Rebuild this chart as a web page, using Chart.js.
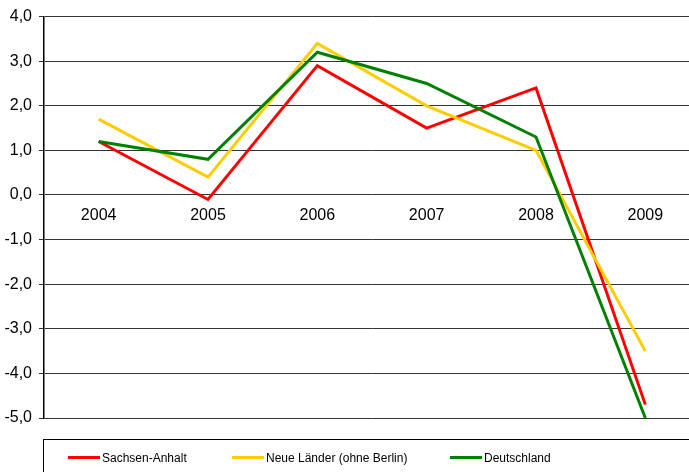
<!DOCTYPE html>
<html>
<head>
<meta charset="utf-8">
<script src="https://cdn.jsdelivr.net/npm/chart.js@4/dist/chart.umd.min.js"></script>
<style>
  html, body { margin: 0; padding: 0; background: #fff; overflow: hidden; }
  #wrap { position: relative; width: 700px; height: 472px; }
  #legend { position: absolute; left: 43px; top: 439px; width: 700px; height: 100px;
            border: 1px solid #000; box-sizing: border-box; font-family: "Liberation Sans", Arial, sans-serif;
            font-size: 12px; color: #000; }
  .li { position: absolute; top: 10px; height: 16px; line-height: 16px; white-space: nowrap; }
  .sw { position: absolute; left: 0; top: 6px; width: 32px; height: 3px; }
  .tx { position: absolute; left: 34px; top: 0; }
</style>
</head>
<body>
<div id="wrap">
  <canvas id="c" width="700" height="472"></canvas>
  <div id="legend"></div>
</div>
<script>
const categories = ['2004', '2005', '2006', '2007', '2008', '2009'];
const seriesNames = ['Sachsen-Anhalt', 'Neue Länder (ohne Berlin)', 'Deutschland'];
const sachsenAnhalt = [1.2, -0.1, 2.9, 1.5, 2.4, -4.7];
const neueLaender = [1.7, 0.4, 3.4, 2.0, 1.0, -3.5];
const deutschland = [1.2, 0.8, 3.2, 2.5, 1.3, -5.0];
const seriesColors = ['#ff0000', '#ffcc00', '#008000'];
const yMin = -5, yMax = 4, yStep = 1;

const seriesData = [sachsenAnhalt, neueLaender, deutschland];
const datasets = seriesData.map((d, i) => ({
  label: seriesNames[i],
  data: d,
  borderColor: seriesColors[i],
  backgroundColor: seriesColors[i],
  borderWidth: 3,
  pointRadius: 0,
  tension: 0,
  borderJoinStyle: 'miter',
  clip: false,
  order: seriesData.length - i
}));

new Chart(document.getElementById('c'), {
  type: 'line',
  data: { labels: categories, datasets },
  options: {
    responsive: false,
    animation: false,
    layout: { padding: { top: 15, left: 0, right: 0, bottom: 54 } },
    plugins: { legend: { display: false }, tooltip: { enabled: false } },
    scales: {
      x: {
        type: 'category',
        position: { y: 0 },
        offset: true,
        grid: { display: false, drawTicks: false },
        border: { display: false },
        ticks: {
          color: '#000',
          font: { family: 'Liberation Sans', size: 16 },
          padding: 11,
          maxRotation: 0,
          autoSkip: false
        },
        afterFit: s => { s.height = 0; }
      },
      y: {
        min: yMin, max: yMax,
        ticks: {
          stepSize: yStep,
          color: '#000',
          font: { family: 'Liberation Sans', size: 16 },
          padding: 7,
          callback: v => v.toFixed(1).replace('.', ',')
        },
        grid: { color: '#333', lineWidth: 1, tickLength: 5, drawTicks: true },
        border: { display: true, color: '#000', width: 1.5 },
        afterFit: s => { s.width = 44; }
      }
    }
  }
});

const legendPos = [24, 188, 406];
const lg = document.getElementById('legend');
seriesNames.forEach((n, i) => {
  const d = document.createElement('div');
  d.className = 'li';
  d.style.left = legendPos[i] + 'px';
  d.innerHTML = '<div class="sw" style="background:' + seriesColors[i] + '"></div><div class="tx"></div>';
  d.querySelector('.tx').textContent = n;
  lg.appendChild(d);
});
</script>
</body>
</html>
